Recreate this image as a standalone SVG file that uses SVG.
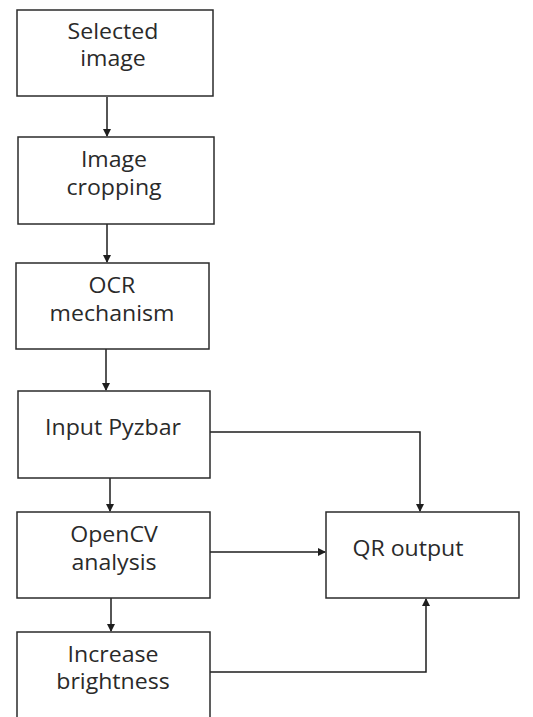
<svg xmlns="http://www.w3.org/2000/svg" width="533" height="717" viewBox="0 0 533 717">
<defs>
<style>
.box{fill:#fff;stroke:#2b2b2b;stroke-width:1.5}
.lbl{font-family:"Open Sans","Liberation Sans",sans-serif;font-size:21px;fill:#2a2a2a;text-anchor:middle}
.con{fill:none;stroke:#1e1e1e;stroke-width:1.5}
</style>
<marker id="ah" markerWidth="8" markerHeight="8" refX="7" refY="4" orient="auto" markerUnits="userSpaceOnUse">
<path d="M0,0 L8,4 L0,8 z" fill="#1e1e1e"/>
</marker>
</defs>
<rect width="533" height="717" fill="#fff"/>
<g id="connectors">
<path class="con" d="M107,97 V136" marker-end="url(#ah)"/>
<path class="con" d="M107,224 V262" marker-end="url(#ah)"/>
<path class="con" d="M106,349 V390" marker-end="url(#ah)"/>
<path class="con" d="M110,478 V511" marker-end="url(#ah)"/>
<path class="con" d="M111,598 V631" marker-end="url(#ah)"/>
<path class="con" d="M210,432 H420 V511" marker-end="url(#ah)"/>
<path class="con" d="M210,552 H325" marker-end="url(#ah)"/>
<path class="con" d="M210,672 H426 V599" marker-end="url(#ah)"/>
</g>
<g id="selected-image">
<rect class="box" x="17" y="10" width="196" height="86"/>
<text class="lbl" transform="translate(113,39) scale(1.1,1)">Selected</text>
<text class="lbl" transform="translate(113,66) scale(1.1,1)">image</text>
</g>
<g id="image-cropping">
<rect class="box" x="18" y="137" width="196" height="87"/>
<text class="lbl" transform="translate(114,167) scale(1.1,1)">Image</text>
<text class="lbl" transform="translate(114,195) scale(1.1,1)">cropping</text>
</g>
<g id="ocr-mechanism">
<rect class="box" x="16" y="263" width="193" height="86"/>
<text class="lbl" transform="translate(112,293) scale(1.1,1)">OCR</text>
<text class="lbl" transform="translate(112,321) scale(1.1,1)">mechanism</text>
</g>
<g id="input-pyzbar">
<rect class="box" x="18" y="391" width="192" height="87"/>
<text class="lbl" transform="translate(113,435) scale(1.1,1)">Input Pyzbar</text>
</g>
<g id="opencv-analysis">
<rect class="box" x="17" y="512" width="193" height="86"/>
<text class="lbl" transform="translate(114,542) scale(1.1,1)">OpenCV</text>
<text class="lbl" transform="translate(114,570) scale(1.1,1)">analysis</text>
</g>
<g id="qr-output">
<rect class="box" x="326" y="512" width="193" height="86"/>
<text class="lbl" transform="translate(408,556) scale(1.1,1)">QR output</text>
</g>
<g id="increase-brightness">
<rect class="box" x="17" y="632" width="193" height="100"/>
<text class="lbl" transform="translate(113,662) scale(1.1,1)">Increase</text>
<text class="lbl" transform="translate(113,689) scale(1.1,1)">brightness</text>
</g>
</svg>
